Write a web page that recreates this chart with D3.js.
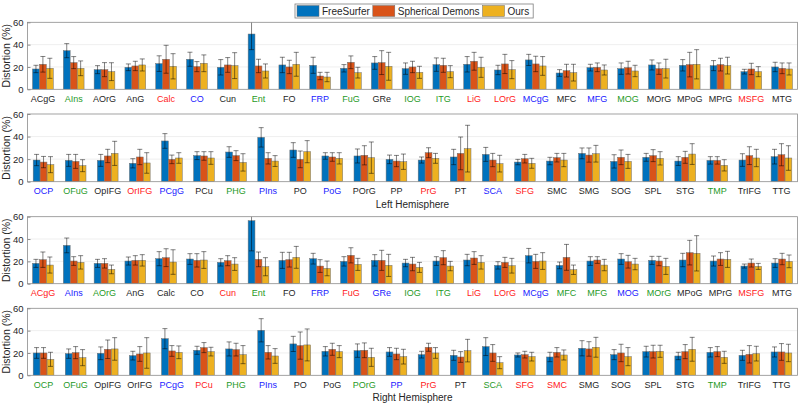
<!DOCTYPE html>
<html>
<head>
<meta charset="utf-8">
<script src="https://cdn.jsdelivr.net/npm/d3@7"></script>
<style>
  body { margin: 0; background: #fff; }
  text { font-family: "Liberation Sans", Arial, sans-serif; }
</style>
</head>
<body>
<div class="container"></div>
<script>
const WIDTH = 800;
const HEIGHT = 405;
const LEFT = 27.5;
const RIGHT = 797.5;

var seriesNames = ["FreeSurfer", "Spherical Demons", "Ours"];
var yTicks = [0, 20, 40, 60];

// label colour codes: k black, r red, b blue, g green
var catsA = ["ACgG", "AIns", "AOrG", "AnG", "Calc", "CO", "Cun", "Ent", "FO", "FRP", "FuG", "GRe", "IOG",
    "ITG", "LiG", "LOrG", "MCgG", "MFC", "MFG", "MOG", "MOrG", "MPoG", "MPrG", "MSFG", "MTG"];
var catsB = ["OCP", "OFuG", "OpIFG", "OrIFG", "PCgG", "PCu", "PHG", "PIns", "PO", "PoG", "POrG", "PP",
    "PrG", "PT", "SCA", "SFG", "SMC", "SMG", "SOG", "SPL", "STG", "TMP", "TrIFG", "TTG"];

// left hemisphere, first half
var tags1 = ["k", "g", "k", "k", "r", "b", "k", "g", "k", "b", "g", "k", "g", "g", "r", "r", "b", "k", "b", "g", "k", "k", "k", "r", "k"];
var fs1 = [18.2, 34.6, 17.6, 19.7, 23.0, 26.9, 19.7, 49.5, 21.8, 21.5, 18.8, 23.6, 18.5, 22.1, 22.4, 17.3, 26.3, 14.6, 19.4, 18.5, 21.8, 21.5, 21.2, 15.8, 20.0];
var fs1e = [3.3, 6.3, 3.6, 3.0, 7.0, 6.3, 6.9, 14.0, 6.9, 7.2, 3.3, 5.7, 5.1, 6.0, 6.9, 4.2, 5.0, 3.0, 3.0, 5.1, 4.5, 5.1, 4.5, 2.1, 4.2];
var sd1 = [22.4, 23.9, 17.6, 20.9, 26.9, 20.3, 21.8, 20.9, 20.0, 11.9, 24.2, 23.9, 20.0, 21.5, 25.1, 22.7, 22.7, 16.7, 19.7, 19.4, 18.5, 22.1, 22.1, 18.2, 18.8];
var sd1e = [7.0, 5.4, 6.3, 4.2, 12.5, 4.5, 6.6, 6.0, 6.0, 3.3, 5.7, 10.7, 5.1, 6.3, 8.0, 8.6, 6.9, 5.7, 3.9, 5.7, 5.1, 11.0, 5.7, 5.1, 4.8];
var our1 = [18.8, 18.8, 15.8, 21.8, 20.6, 23.3, 21.2, 16.4, 22.4, 11.0, 14.9, 20.6, 15.2, 15.8, 19.7, 17.6, 20.9, 14.9, 17.3, 16.4, 18.5, 22.4, 21.2, 15.8, 18.2];
var our1e = [9.0, 6.6, 8.0, 5.4, 11.3, 7.5, 11.6, 6.3, 10.7, 4.2, 4.8, 12.5, 5.4, 5.4, 9.0, 8.1, 8.4, 7.5, 4.5, 5.1, 8.4, 13.1, 7.5, 4.5, 5.4];

// left hemisphere, second half
var tags2 = ["b", "g", "k", "r", "b", "k", "g", "b", "k", "b", "k", "k", "r", "k", "b", "r", "k", "k", "k", "k", "k", "g", "k", "k"];
var fs2 = [19.2, 18.9, 18.9, 16.3, 36.1, 23.1, 26.3, 39.3, 28.1, 22.8, 22.8, 19.8, 19.2, 21.9, 24.2, 17.4, 18.3, 25.1, 18.0, 21.6, 18.3, 18.9, 19.2, 22.2];
var fs2e = [5.0, 5.3, 5.3, 4.1, 6.5, 3.5, 4.7, 8.6, 6.5, 2.9, 6.2, 3.8, 2.7, 6.8, 6.2, 2.4, 3.3, 4.8, 5.9, 3.5, 3.9, 3.3, 5.6, 6.5];
var sd2 = [17.4, 18.0, 22.8, 21.9, 19.8, 22.8, 23.1, 20.7, 19.8, 21.9, 23.4, 18.3, 25.7, 25.1, 19.2, 20.4, 21.3, 23.6, 21.6, 23.1, 21.6, 18.9, 23.1, 23.9];
var sd2e = [5.0, 6.2, 5.9, 6.8, 3.8, 3.8, 4.4, 5.0, 7.4, 3.8, 8.5, 5.0, 4.4, 14.5, 5.9, 3.8, 3.8, 6.3, 6.5, 5.3, 5.3, 3.3, 7.9, 9.8];
var our2 = [15.1, 14.2, 25.1, 16.6, 21.0, 21.0, 17.1, 18.3, 26.6, 20.7, 21.3, 17.7, 20.7, 29.3, 16.0, 16.3, 19.2, 24.8, 18.0, 20.7, 24.5, 14.5, 21.0, 21.0];
var our2e = [7.1, 5.3, 10.7, 9.1, 4.7, 5.6, 7.7, 4.8, 9.8, 5.0, 13.9, 6.8, 4.4, 20.7, 7.4, 4.4, 5.9, 7.4, 6.2, 5.9, 9.2, 5.0, 7.7, 10.9];

// right hemisphere, first half
var tags3 = ["r", "b", "g", "k", "k", "k", "r", "g", "k", "b", "r", "b", "g", "g", "r", "r", "b", "g", "g", "b", "g", "k", "k", "r", "k"];
var fs3 = [18.2, 34.3, 18.2, 20.3, 22.4, 22.1, 19.1, 56.4, 20.9, 22.4, 20.0, 20.9, 18.5, 20.3, 21.2, 16.4, 25.1, 16.4, 20.3, 22.1, 20.9, 21.2, 20.3, 15.8, 18.5];
var fs3e = [3.6, 6.6, 3.6, 3.6, 6.3, 4.8, 3.3, 27.0, 7.2, 4.8, 4.2, 5.1, 3.3, 3.9, 5.1, 3.3, 6.5, 3.0, 3.9, 4.8, 3.6, 6.0, 4.5, 1.8, 3.9];
var sd3 = [21.5, 20.3, 18.2, 20.9, 23.3, 20.9, 20.6, 21.8, 21.5, 15.8, 25.4, 20.9, 17.6, 23.3, 23.0, 19.1, 20.0, 23.6, 21.2, 19.7, 20.3, 27.8, 22.1, 18.5, 22.1];
var sd3e = [6.9, 3.9, 4.2, 4.2, 8.0, 6.0, 4.5, 6.6, 6.6, 5.7, 6.8, 9.0, 6.0, 6.3, 5.7, 4.5, 6.3, 11.6, 3.0, 5.7, 4.2, 11.0, 5.7, 3.6, 5.1];
var our3 = [16.7, 19.1, 12.8, 20.9, 19.4, 21.2, 17.6, 15.2, 23.6, 13.7, 17.3, 16.4, 14.6, 15.8, 19.1, 16.1, 20.3, 12.5, 16.7, 17.6, 15.5, 27.2, 21.8, 15.5, 20.0];
var our3e = [7.2, 6.0, 3.9, 5.1, 11.0, 7.5, 5.7, 8.1, 9.8, 6.6, 5.4, 9.9, 4.5, 4.2, 6.0, 6.6, 7.5, 4.2, 5.1, 5.1, 7.2, 15.8, 7.2, 2.7, 5.7];

// right hemisphere, second half
var tags4 = ["g", "g", "k", "k", "b", "r", "g", "b", "k", "k", "g", "b", "r", "k", "g", "r", "r", "k", "k", "k", "k", "g", "k", "k"];
var fs4 = [20.0, 19.4, 19.7, 17.6, 32.8, 22.4, 23.6, 40.3, 28.1, 21.5, 22.1, 20.9, 18.5, 17.9, 25.7, 18.2, 16.4, 24.2, 18.5, 21.2, 17.3, 20.6, 17.9, 20.9];
var fs4e = [4.8, 4.2, 5.7, 3.9, 9.0, 3.6, 6.3, 10.4, 6.8, 4.2, 6.0, 3.9, 3.0, 4.5, 8.0, 1.8, 4.2, 6.8, 4.5, 4.8, 3.3, 4.2, 4.5, 4.5];
var sd4 = [20.0, 20.3, 23.3, 19.1, 21.8, 24.8, 23.0, 20.6, 26.6, 23.3, 22.4, 19.1, 25.1, 16.4, 20.0, 18.5, 20.6, 23.6, 20.0, 21.2, 21.2, 21.2, 18.8, 20.9];
var sd4e = [4.8, 5.4, 8.3, 6.6, 4.8, 4.5, 5.7, 6.0, 12.2, 5.4, 6.6, 5.1, 3.6, 4.8, 7.5, 3.0, 4.2, 6.5, 7.8, 5.7, 6.3, 4.5, 7.8, 7.5];
var our4 = [14.3, 15.8, 23.6, 20.0, 20.6, 21.2, 18.5, 17.3, 27.2, 21.2, 16.1, 16.7, 20.0, 22.1, 11.3, 16.7, 18.2, 25.1, 16.7, 21.5, 23.3, 16.1, 19.4, 20.0];
var our4e = [6.3, 7.2, 10.1, 13.7, 5.7, 3.9, 8.1, 6.6, 14.3, 5.4, 8.1, 6.6, 4.8, 10.1, 5.4, 3.9, 4.5, 8.9, 8.1, 5.4, 10.7, 5.4, 6.6, 7.8];

var barColors = ["#0072BD", "#D95319", "#EDB120"];
var labelColors = {k: "#262626", r: "#ff1a1a", b: "#1a1aff", g: "#1f9a1f"};

var panels = [
    {cats: catsA, tags: tags1, means: [fs1, sd1, our1], errs: [fs1e, sd1e, our1e], top: 22.3, bottom: 89.3, title: null},
    {cats: catsB, tags: tags2, means: [fs2, sd2, our2], errs: [fs2e, sd2e, our2e], top: 114, bottom: 181.7, title: "Left Hemisphere"},
    {cats: catsA, tags: tags3, means: [fs3, sd3, our3], errs: [fs3e, sd3e, our3e], top: 216.7, bottom: 283.7, title: null},
    {cats: catsB, tags: tags4, means: [fs4, sd4, our4], errs: [fs4e, sd4e, our4e], top: 308.3, bottom: 375.3, title: "Right Hemisphere"}
];

var svg = d3.select('.container').append('svg')
    .attr('width', WIDTH)
    .attr('height', HEIGHT);

var drawPanel = function (p, idx) {
    var g = svg.append('g');
    var clipId = 'clip' + idx;

    svg.append('clipPath').attr('id', clipId)
        .append('rect')
        .attr('x', LEFT).attr('y', p.top)
        .attr('width', RIGHT - LEFT).attr('height', p.bottom - p.top);

    var x = d3.scaleBand().domain(p.cats).range([LEFT, RIGHT]).paddingInner(0).paddingOuter(0);
    var xs = d3.scaleBand().domain([0, 1, 2]).range([-10.5, 10.5]).padding(0.02);
    var y = d3.scaleLinear().domain([0, 60]).range([p.bottom, p.top]);

    // grid
    g.append('g').selectAll('line').data([20, 40]).enter().append('line')
        .attr('x1', LEFT).attr('x2', RIGHT)
        .attr('y1', function (d) { return y(d); })
        .attr('y2', function (d) { return y(d); })
        .attr('stroke', '#ebebeb').attr('stroke-width', 0.8);

    var rows = [];
    p.cats.forEach(function (c, i) {
        for (var s = 0; s < 3; s++) {
            rows.push({cat: c, s: s, v: p.means[s][i], e: p.errs[s][i]});
        }
    });

    var plot = g.append('g').attr('clip-path', 'url(#' + clipId + ')');

    plot.selectAll('rect.bar').data(rows).enter().append('rect')
        .attr('class', 'bar')
        .attr('x', function (d) { return x(d.cat) + x.bandwidth() / 2 + xs(d.s); })
        .attr('width', xs.bandwidth())
        .attr('y', function (d) { return y(d.v); })
        .attr('height', function (d) { return y(0) - y(d.v); })
        .attr('fill', function (d) { return barColors[d.s]; })
        .attr('stroke', '#6e6e6e').attr('stroke-width', 0.5);

    var eb = plot.selectAll('g.err').data(rows).enter().append('g')
        .attr('transform', function (d) {
            return 'translate(' + (x(d.cat) + x.bandwidth() / 2 + xs(d.s) + xs.bandwidth() / 2) + ',0)';
        })
        .attr('stroke', 'rgba(0,0,0,0.55)').attr('stroke-width', 0.9);
    eb.append('line')
        .attr('y1', function (d) { return y(d.v - d.e); })
        .attr('y2', function (d) { return y(d.v + d.e); });
    eb.append('line').attr('x1', -2.5).attr('x2', 2.5)
        .attr('y1', function (d) { return y(d.v + d.e); })
        .attr('y2', function (d) { return y(d.v + d.e); });
    eb.append('line').attr('x1', -2.5).attr('x2', 2.5)
        .attr('y1', function (d) { return y(d.v - d.e); })
        .attr('y2', function (d) { return y(d.v - d.e); });

    // box
    g.append('rect')
        .attr('x', LEFT).attr('y', p.top)
        .attr('width', RIGHT - LEFT).attr('height', p.bottom - p.top)
        .attr('fill', 'none').attr('stroke', '#8c8c8c').attr('stroke-width', 0.8);

    var yAxis = d3.axisLeft(y).tickValues(yTicks).tickSizeInner(-3).tickSizeOuter(0).tickPadding(4);
    var ya = g.append('g').attr('transform', 'translate(' + LEFT + ',0)').call(yAxis);
    ya.select('.domain').remove();
    ya.selectAll('line').attr('stroke', '#8c8c8c');
    ya.selectAll('text').attr('fill', '#262626').style('font-size', '9.5px')
        .style('font-family', '"Liberation Sans", Arial, sans-serif');

    g.append('text')
        .attr('transform', 'translate(10,' + ((p.top + p.bottom) / 2) + ') rotate(-90)')
        .attr('text-anchor', 'middle')
        .attr('fill', '#262626')
        .style('font-size', '10.5px')
        .text('Distortion (%)');

    g.append('g').selectAll('text').data(p.cats).enter().append('text')
        .attr('x', function (d) { return x(d) + x.bandwidth() / 2; })
        .attr('y', p.bottom + 12.7)
        .attr('text-anchor', 'middle')
        .attr('fill', function (d, i) { return labelColors[p.tags[i]]; })
        .style('font-size', '9px')
        .text(function (d) { return d; });

    if (p.title) {
        g.append('text')
            .attr('x', (LEFT + RIGHT) / 2)
            .attr('y', p.bottom + 26)
            .attr('text-anchor', 'middle')
            .attr('fill', '#262626')
            .style('font-size', '10px')
            .text(p.title);
    }
};

panels.forEach(drawPanel);

// legend
var leg = svg.append('g');
var legBox = leg.append('rect')
    .attr('y', 4).attr('height', 14)
    .attr('fill', '#fff').attr('stroke', '#7f7f7f').attr('stroke-width', 0.8);
var cx = 297;
seriesNames.forEach(function (name, i) {
    leg.append('rect')
        .attr('x', cx).attr('y', 5.5).attr('width', 22).attr('height', 11)
        .attr('fill', barColors[i]).attr('stroke', '#6e6e6e').attr('stroke-width', 0.5);
    var t = leg.append('text')
        .attr('x', cx + 25).attr('y', 14.6)
        .attr('fill', '#262626')
        .style('font-size', '10px')
        .text(name);
    cx += 25 + t.node().getComputedTextLength() + 3;
});
legBox.attr('x', 295).attr('width', cx - 295 + 1);
</script>
</body>
</html>
